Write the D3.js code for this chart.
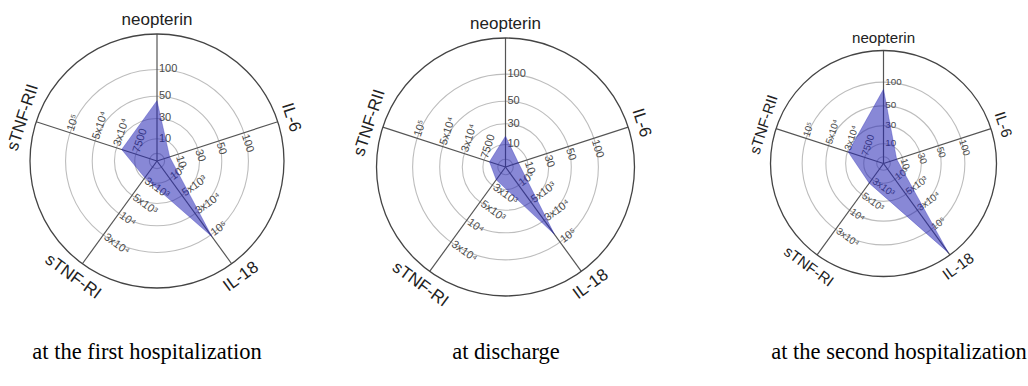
<!DOCTYPE html>
<html><head><meta charset="utf-8">
<script src="https://cdn.jsdelivr.net/npm/d3@7"></script>
<style>body{margin:0;background:#fff}svg{display:block}</style>
</head><body>
<svg id="c" width="1028" height="386"></svg>
<script>
// ---- data ----
const axes = ["neopterin", "IL-6", "IL-18", "sTNF-RI", "sTNF-RII"];
const tickValues = [
  [10, 30, 50, 100],
  [10, 30, 50, 100],
  [1000, 5000, 30000, 100000],
  [3000, 5000, 10000, 30000],
  [7500, 30000, 50000, 100000]
];
const tickLabels = [
  ["10", "30", "50", "100"],
  ["10", "30", "50", "100"],
  ["10³", "5x10³", "3x10⁴", "10⁵"],
  ["3x10³", "5x10³", "10⁴", "3x10⁴"],
  ["7500", "3x10⁴", "5x10⁴", "10⁵"]
];
const panels = ["at the first hospitalization", "at discharge", "at the second hospitalization"];
const firstHosp  = [46, 6, 105000, 2800, 24000];
const discharge  = [18, 6, 75000, 2100, 5600];
const secondHosp = [85, 7, 185000, 3500, 29000];
const seriesValues = [firstHosp, discharge, secondHosp];

// ---- layout ----
const layout = [
  {cx: 157,   cy: 161,   R: 127, s: 1.0,  capX: 147, capY: 359},
  {cx: 505.5, cy: 167,   R: 129, s: 1.0,  capX: 506, capY: 359},
  {cx: 883.5, cy: 163.5, R: 113, s: 0.89, capX: 899, capY: 359}
];
const ringFracs = [0.175, 0.335, 0.51, 0.72];
const innerFrac = 0.06;

const svg = d3.select("#c");
const angle = i => i * 2 * Math.PI / axes.length;

panels.forEach((cap, p) => {
  const L = layout[p];
  const g = svg.append("g").attr("transform", `translate(${L.cx},${L.cy})`);
  const scales = tickValues.map(t =>
    d3.scaleLinear().domain([0, ...t]).range([0, ...ringFracs.map(f => f * L.R)]));

  // grid rings
  g.selectAll("circle.ring").data([innerFrac, ...ringFracs]).join("circle")
    .attr("class", "ring").attr("r", f => f * L.R)
    .attr("fill", "none").attr("stroke", "#bdbdbd").attr("stroke-width", 1.1);
  // axes
  g.selectAll("line.axis").data(axes).join("line")
    .attr("class", "axis")
    .attr("x1", 0).attr("y1", 0)
    .attr("x2", (d, i) => L.R * Math.sin(angle(i)))
    .attr("y2", (d, i) => -L.R * Math.cos(angle(i)))
    .attr("stroke", "#555").attr("stroke-width", 1.2);
  // outer circle
  g.append("circle").attr("r", L.R).attr("fill", "none")
    .attr("stroke", "#444").attr("stroke-width", 1.3);

  // tick labels
  axes.forEach((a, i) => {
    const deg = angle(i) * 180 / Math.PI;
    const flip = deg > 90 && deg < 270;
    const rot = flip ? deg - 180 : (deg > 270 ? deg - 360 : deg);
    const tg = g.append("g").attr("transform", `rotate(${rot})`);
    tg.selectAll("text").data(tickValues[i]).join("text")
      .attr("x", 2 * L.s)
      .attr("y", v => (flip ? 1 : -1) * scales[i](v))
      .attr("dominant-baseline", "middle")
      .attr("font-family", "Liberation Sans, Arial, sans-serif")
      .attr("font-size", 11 * L.s)
      .attr("fill", "#4a4a4a")
      .text((v, k) => tickLabels[i][k]);
    // axis title
    tg.append("text")
      .attr("x", 0)
      .attr("y", (flip ? 1 : -1) * (L.R + 9 * L.s))
      .attr("text-anchor", "middle")
      .attr("dominant-baseline", flip ? "hanging" : "alphabetic")
      .attr("font-family", "Liberation Sans, Arial, sans-serif")
      .attr("font-size", 17 * L.s)
      .attr("fill", "#222")
      .text(a);
  });

  // data polygon
  const vals = seriesValues[p];
  const radial = d3.lineRadial()
    .angle((d, i) => angle(i))
    .radius((d, i) => scales[i](d))
    .curve(d3.curveLinearClosed);
  g.append("path").attr("d", radial(vals))
    .attr("fill", "#2626b4").attr("fill-opacity", 0.55)
    .attr("stroke", "#2626b4").attr("stroke-opacity", 0.4).attr("stroke-width", 0.8);

  // caption
  svg.append("text")
    .attr("x", L.capX).attr("y", L.capY)
    .attr("text-anchor", "middle")
    .attr("font-family", "Liberation Serif, Times New Roman, serif")
    .attr("font-size", 22.5)
    .attr("fill", "#000")
    .text(cap);
});
</script>
</body></html>
